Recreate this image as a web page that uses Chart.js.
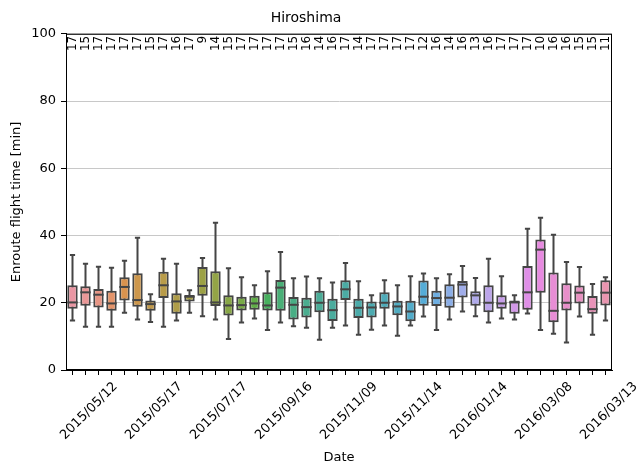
<!DOCTYPE html>
<html>
<head>
<meta charset="utf-8">
<script src="https://cdn.jsdelivr.net/npm/chart.js@4"></script>
<style>
html, body { margin: 0; padding: 0; background: #fff; }
</style>
</head>
<body>
<canvas id="myChart" width="636" height="465"></canvas>
<script>
// tick labels on the x axis (only every 5th date is shown in the picture)
const dateLabels = [
  '', '2015/05/12', '', '', '', '', '2015/05/17', '', '', '', '',
  '2015/07/17', '', '', '', '', '2015/09/16', '', '', '', '',
  '2015/11/09', '', '', '', '', '2015/11/14', '', '', '', '',
  '2016/01/14', '', '', '', '', '2016/03/08', '', '', '', '',
  '2016/03/13'
];

// number of flights per day (text above each box)
const counts = [17, 15, 17, 17, 17, 17, 15, 17, 16, 17,
  9, 14, 15, 17, 17, 17, 17, 15, 16, 14, 16,
  17, 14, 17, 17, 17, 17, 12, 16, 14, 16,
  13, 16, 17, 17, 17, 10, 16, 16, 15, 15, 11];

// box plot stats, minutes
const whiskerLow = [14.7, 12.9, 12.9, 12.9, 17.0, 15.0, 14.3, 12.9, 14.7, 17.0,
  16.0, 15.0, 9.2, 14.1, 15.3, 11.9, 14.1, 13.0, 12.6, 9.0,
  12.6, 13.2, 10.5, 12.0, 13.2, 10.2, 13.2, 15.9, 11.9, 15.0,
  17.4, 16.0, 14.1, 15.3, 15.0, 16.8, 11.9, 10.8, 8.2, 15.9,
  10.5, 14.7];
const q1 = [18.2, 19.1, 18.6, 17.6, 20.7, 18.8, 17.6, 21.4, 16.7, 20.4,
  22.1, 19.0, 16.2, 17.7, 17.9, 17.7, 17.6, 15.0, 15.6, 17.2,
  14.6, 20.8, 15.5, 15.6, 18.2, 16.3, 14.5, 19.1, 19.0, 18.5,
  21.6, 19.1, 17.2, 18.2, 16.7, 17.9, 23.0, 14.2, 17.7, 19.8,
  16.7, 19.2];
const median = [20.1, 23.1, 22.4, 19.8, 24.7, 20.8, 19.6, 25.2, 20.4, 21.8,
  25.0, 20.1, 19.2, 19.3, 19.8, 19.2, 24.5, 19.4, 18.7, 20.0,
  17.8, 24.0, 18.5, 18.6, 20.0, 18.9, 17.4, 21.8, 21.4, 21.5,
  25.4, 22.2, 20.0, 19.8, 20.1, 23.1, 35.8, 17.6, 20.0, 23.0,
  18.1, 23.0];
const q3 = [25.2, 24.9, 24.1, 23.6, 27.6, 28.8, 20.7, 29.2, 22.8, 22.3,
  30.6, 29.4, 22.2, 21.8, 22.1, 23.1, 26.8, 21.7, 21.5, 23.6,
  21.2, 26.7, 21.2, 20.4, 23.1, 20.6, 20.6, 26.6, 23.6, 25.5,
  26.5, 23.4, 25.2, 22.2, 20.7, 30.9, 38.8, 29.0, 25.8, 25.1,
  22.0, 26.7];
const whiskerHigh = [34.2, 31.6, 30.7, 30.4, 32.5, 39.3, 22.5, 33.1, 31.6, 23.7,
  33.3, 43.8, 30.3, 27.6, 25.2, 29.4, 35.1, 27.3, 27.8, 27.3,
  26.0, 31.8, 26.4, 22.2, 26.7, 25.2, 27.9, 28.7, 27.3, 28.5,
  30.9, 27.4, 33.1, 27.9, 22.2, 42.0, 45.3, 40.2, 32.1, 30.6,
  25.6, 27.6];

const yTicks = [0, 20, 40, 60, 80, 100];

// ---- seaborn-like husl palette ----
const M = [
  [3.240969941904521, -1.537383177570093, -0.498610760293],
  [-0.96924363628087, 1.87596750150772, 0.041555057407175],
  [0.055630079696993, -0.20397695888897, 1.056971514242878]
];
const refU = 0.19783000664283, refV = 0.46831999493879;
const kappa = 903.2962962, epsilon = 0.0088564516;

function getBounds(L) {
  const res = [];
  const sub1 = Math.pow(L + 16, 3) / 1560896;
  const sub2 = sub1 > epsilon ? sub1 : L / kappa;
  for (const [m1, m2, m3] of M) {
    for (let t = 0; t < 2; t++) {
      const top1 = (284517 * m1 - 94839 * m3) * sub2;
      const top2 = (838422 * m3 + 769860 * m2 + 731718 * m1) * L * sub2 - 769860 * t * L;
      const bottom = (632260 * m3 - 126452 * m2) * sub2 + 126452 * t;
      res.push([top1 / bottom, top2 / bottom]);
    }
  }
  return res;
}
function maxChroma(L, H) {
  const hr = H / 360 * 2 * Math.PI;
  let min = Infinity;
  for (const [m, b] of getBounds(L)) {
    const len = b / (Math.sin(hr) - m * Math.cos(hr));
    if (len >= 0) min = Math.min(min, len);
  }
  return min;
}
function huslToRgb(H, S, L) {
  const C = maxChroma(L, H) / 100 * S;
  const hr = H / 360 * 2 * Math.PI;
  const U = Math.cos(hr) * C, V = Math.sin(hr) * C;
  const Y = L <= 8 ? L / kappa : Math.pow((L + 16) / 116, 3);
  const vu = U / (13 * L) + refU, vv = V / (13 * L) + refV;
  const X = 0 - (9 * Y * vu) / ((vu - 4) * vv - vu * vv);
  const Z = (9 * Y - 15 * vv * Y - vv * X) / (3 * vv);
  return M.map(r => {
    const c = r[0] * X + r[1] * Y + r[2] * Z;
    const v = c <= 0.0031308 ? 12.92 * c : 1.055 * Math.pow(c, 1 / 2.4) - 0.055;
    return Math.min(1, Math.max(0, v));
  });
}
function rgbToHls([r, g, b]) {
  const mx = Math.max(r, g, b), mn = Math.min(r, g, b);
  const l = (mx + mn) / 2;
  if (mx === mn) return [0, l, 0];
  const d = mx - mn;
  const s = l <= 0.5 ? d / (mx + mn) : d / (2 - mx - mn);
  let h;
  if (r === mx) h = (g - b) / d;
  else if (g === mx) h = 2 + (b - r) / d;
  else h = 4 + (r - g) / d;
  h = ((h / 6) % 1 + 1) % 1;
  return [h, l, s];
}
function hlsToRgb([h, l, s]) {
  if (s === 0) return [l, l, l];
  const m2 = l <= 0.5 ? l * (1 + s) : l + s - l * s;
  const m1 = 2 * l - m2;
  const v = hh => {
    hh = ((hh % 1) + 1) % 1;
    if (hh < 1 / 6) return m1 + (m2 - m1) * hh * 6;
    if (hh < 0.5) return m2;
    if (hh < 2 / 3) return m1 + (m2 - m1) * (2 / 3 - hh) * 6;
    return m1;
  };
  return [v(h + 1 / 3), v(h), v(h - 1 / 3)];
}
const toCss = c => 'rgb(' + c.map(v => Math.round(v * 255)).join(',') + ')';

const n = counts.length;
let boxColors = [];
let minLight = 1;
for (let i = 0; i < n; i++) {
  const h = ((i / n + 0.01) % 1) * 359;
  const rgb = huslToRgb(h, 0.9 * 99, 0.7 * 99);
  const hls = rgbToHls(rgb);
  hls[2] *= 0.75;
  minLight = Math.min(minLight, hls[1]);
  boxColors.push(toCss(hlsToRgb(hls)));
}
const lum = Math.round(minLight * 0.6 * 255);
const lineGray = 'rgb(' + lum + ',' + lum + ',' + lum + ')';

// whiskers, caps, medians and the counts on top
const boxLines = {
  id: 'boxLines',
  beforeDatasetsDraw(chart) {
    const { ctx, scales: { x, y } } = chart;
    const bars = chart.getDatasetMeta(0).data;
    ctx.save();
    ctx.strokeStyle = lineGray;
    ctx.lineWidth = 2;
    for (let i = 0; i < n; i++) {
      const cx = x.getPixelForValue(i);
      const half = bars[i].width / 4;
      ctx.beginPath();
      ctx.moveTo(cx, y.getPixelForValue(whiskerLow[i]));
      ctx.lineTo(cx, y.getPixelForValue(whiskerHigh[i]));
      ctx.moveTo(cx - half, y.getPixelForValue(whiskerLow[i]));
      ctx.lineTo(cx + half, y.getPixelForValue(whiskerLow[i]));
      ctx.moveTo(cx - half, y.getPixelForValue(whiskerHigh[i]));
      ctx.lineTo(cx + half, y.getPixelForValue(whiskerHigh[i]));
      ctx.stroke();
    }
    ctx.restore();
  },
  afterDatasetsDraw(chart) {
    const { ctx, chartArea, scales: { x, y } } = chart;
    const bars = chart.getDatasetMeta(0).data;
    ctx.save();
    ctx.strokeStyle = lineGray;
    ctx.lineWidth = 2;
    for (let i = 0; i < n; i++) {
      const cx = x.getPixelForValue(i);
      const half = bars[i].width / 2;
      const my = y.getPixelForValue(median[i]);
      ctx.beginPath();
      ctx.moveTo(cx - half, my);
      ctx.lineTo(cx + half, my);
      ctx.stroke();
    }
    // counts
    ctx.fillStyle = '#000';
    ctx.font = '12px "DejaVu Sans"';
    ctx.textAlign = 'right';
    ctx.textBaseline = 'middle';
    for (let i = 0; i < n; i++) {
      ctx.save();
      ctx.translate(x.getPixelForValue(i), chartArea.top + 2);
      ctx.rotate(-Math.PI / 2);
      ctx.fillText(String(counts[i]), 0, 0);
      ctx.restore();
    }
    // frame
    ctx.strokeStyle = '#000';
    ctx.lineWidth = 1;
    ctx.strokeRect(chartArea.left + 0.5, chartArea.top + 0.5,
      chartArea.right - chartArea.left - 1, chartArea.bottom - chartArea.top - 1);
    ctx.restore();
  }
};

Chart.defaults.font.family = '"DejaVu Sans", sans-serif';
Chart.defaults.color = '#000';

const config = {
  type: 'bar',
  data: {
    labels: dateLabels,
    datasets: [{
      data: q1.map((v, i) => [v, q3[i]]),
      backgroundColor: boxColors,
      borderColor: lineGray,
      borderWidth: 2,
      borderSkipped: false,
      categoryPercentage: 1,
      barPercentage: 0.8
    }]
  },
  options: {
    responsive: false,
    animation: false,
    layout: { padding: { left: 0, right: 24, top: 0, bottom: 0 } },
    plugins: {
      legend: { display: false },
      tooltip: { enabled: false },
      title: {
        display: true,
        text: 'Hiroshima',
        font: { size: 14, weight: 'normal' },
        color: '#000',
        padding: { top: 10, bottom: 7 }
      }
    },
    scales: {
      x: {
        offset: true,
        border: { display: true, color: '#000', width: 1 },
        grid: { offset: false, drawOnChartArea: false, tickLength: 5, tickColor: '#000' },
        ticks: {
          autoSkip: false,
          minRotation: 45,
          maxRotation: 45,
          padding: 4,
          labelOffset: 30,
          font: { size: 13 }
        },
        title: { display: true, text: 'Date', font: { size: 13 }, padding: { top: 0, bottom: 0 } },
        afterFit(scale) { scale.height = 95; }
      },
      y: {
        min: 0,
        max: 100,
        border: { display: true, color: '#000', width: 1 },
        grid: { color: '#c8c8c8', lineWidth: 1, tickLength: 5, tickColor: '#000' },
        afterBuildTicks(scale) { scale.ticks = yTicks.map(v => ({ value: v })); },
        ticks: { padding: 5, font: { size: 13 } },
        title: { display: true, text: 'Enroute flight time [min]', font: { size: 13 }, padding: { top: 9, bottom: 0 } },
        afterFit(scale) { scale.width = 66; }
      }
    }
  },
  plugins: [boxLines]
};

const myChart = new Chart(document.getElementById('myChart'), config);
</script>
</body>
</html>
